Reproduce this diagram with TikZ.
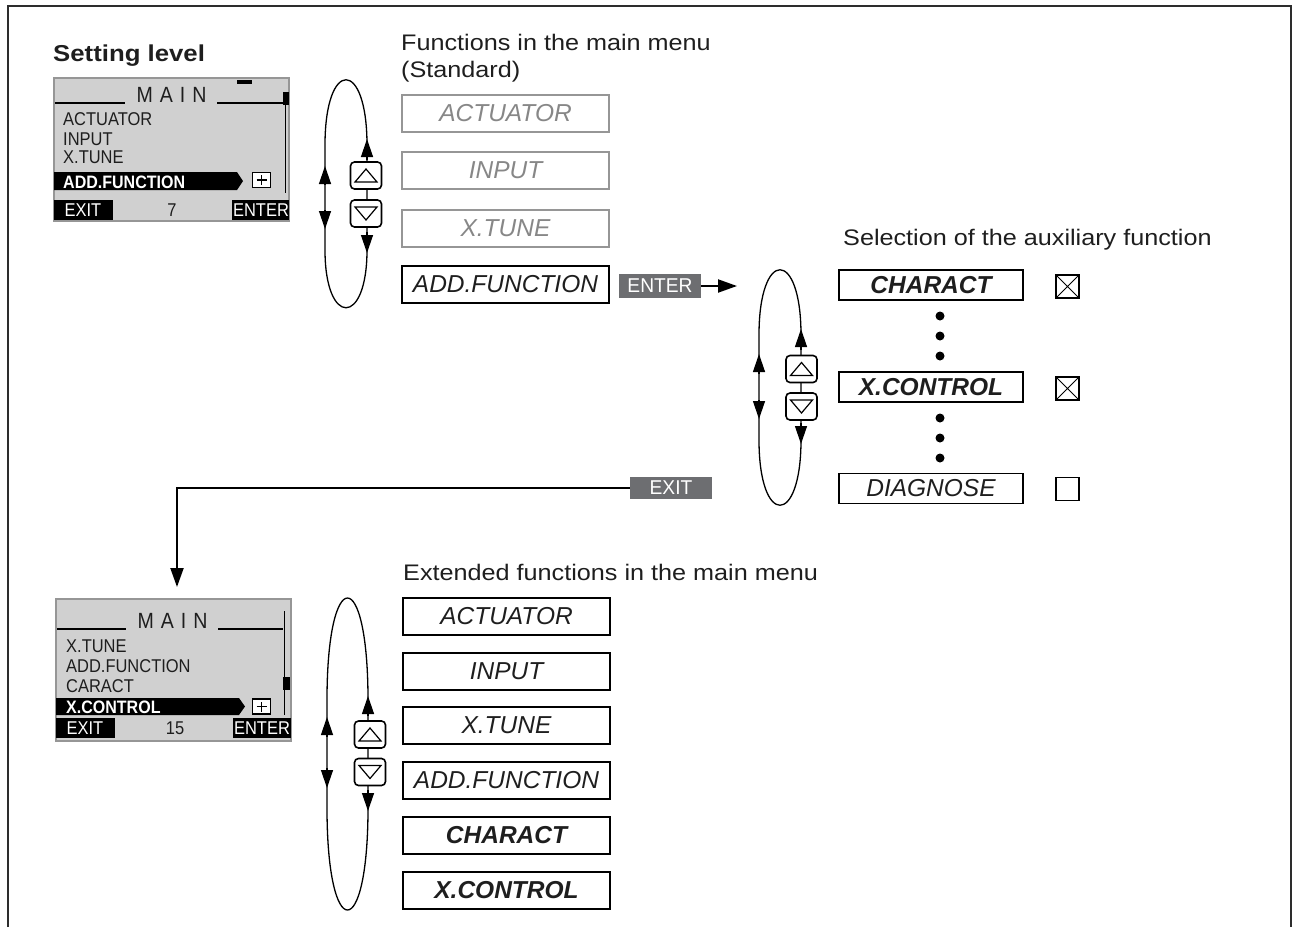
\documentclass[tikz,border=0pt]{standalone}
\usepackage{fontspec}
\setmainfont{Liberation Sans}
\newfontfamily\bodyfont[FakeStretch=1.12]{Liberation Sans}
\newfontfamily\dispfont[FakeStretch=0.89]{Liberation Sans}
\newfontfamily\labfont[FakeStretch=0.96]{Liberation Sans}
\usetikzlibrary{arrows.meta}
\definecolor{framecol}{RGB}{45,45,45}
\definecolor{dispgray}{RGB}{208,208,208}
\definecolor{dispedge}{RGB}{150,150,150}
\definecolor{labgray}{RGB}{109,110,113}
\definecolor{boxgray}{RGB}{150,150,150}
\definecolor{boxtxt}{RGB}{135,135,135}
\definecolor{txt}{RGB}{30,30,30}
\newcommand\mloop[6]{%
  \draw[lp] (#2,#3) .. controls (#2,#5) and (#1,#5) .. (#1,#3) -- (#1,#4)
    .. controls (#1,#6) and (#2,#6) .. (#2,#4) -- cycle;}
\newcommand\upbtn[2]{%
  \node[btn] (#1) at (#2) {};
  \draw[line width=1.2pt,line join=miter] ([shift={(-11,6.5)}]#1.center) -- ([shift={(11,6.5)}]#1.center) -- ([shift={(0,-6.5)}]#1.center) -- cycle;}
\newcommand\dnbtn[2]{%
  \node[btn] (#1) at (#2) {};
  \draw[line width=1.2pt,line join=miter] ([shift={(-11,-6.5)}]#1.center) -- ([shift={(11,-6.5)}]#1.center) -- ([shift={(0,6.5)}]#1.center) -- cycle;}
\begin{document}
\begin{tikzpicture}[x=1pt,y=-1pt,
  lp/.style={line width=1.3pt},
  loopar/.style={-{Triangle[length=18pt,width=12pt]}, line width=1.3pt},
  conn/.style={-{Triangle[length=19pt,width=13pt]}, line width=2pt},
  btn/.style={draw, line width=1.6pt, rounded corners=4pt, fill=white, minimum width=31pt, minimum height=27pt, inner sep=0, outer sep=0},
  body/.style={inner sep=0, anchor=base west, text=txt, font=\bodyfont\fontsize{22.5}{27}\selectfont},
  head/.style={inner sep=0, anchor=base west, text=txt, font=\bodyfont\bfseries\fontsize{23}{27}\selectfont},
  menubox/.style={draw, line width=1.8pt, minimum width=207pt, minimum height=37pt, inner sep=0, text=txt, font=\itshape\fontsize{24.5}{28}\selectfont},
  greybox/.style={menubox, draw=boxgray, text=boxtxt},
  boldbox/.style={menubox, font=\bfseries\itshape\fontsize{24.5}{28}\selectfont},
  selbox/.style={menubox, minimum width=184pt, minimum height=30pt},
  selbold/.style={boldbox, minimum width=184pt, minimum height=30pt},
  chk/.style={draw, line width=1.2pt, minimum width=23pt, minimum height=23pt, inner sep=0},
  lab/.style={fill=labgray, text=white, minimum width=82pt, minimum height=24pt, inner sep=0, font=\labfont\fontsize{20}{22}\selectfont},
  dtxt/.style={inner sep=0, anchor=base west, text=txt, font=\dispfont\fontsize{18.5}{20}\selectfont},
  dbold/.style={inner sep=0, anchor=base west, text=white, font=\dispfont\bfseries\fontsize{18}{20}\selectfont},
  dwhite/.style={inner sep=0, anchor=base, text=white, font=\dispfont\fontsize{18.5}{20}\selectfont},
  dnum/.style={inner sep=0, anchor=base, text=txt, font=\dispfont\fontsize{18.5}{20}\selectfont},
  dtitle/.style={inner sep=0, anchor=base, text=txt, font=\dispfont\fontsize{22}{24}\selectfont},
  dbg/.style={fill=dispgray, draw=dispedge, line width=1.5pt},
  dline/.style={line width=1.3pt},
  plusbox/.style={draw, fill=white, line width=1.2pt, minimum width=18pt, minimum height=15pt, inner sep=0},
  dot/.style={circle, fill=black, inner sep=0, minimum size=9pt}
]
\useasboundingbox (0,0) rectangle (1295,927);
% frame
\draw[framecol, line width=2.5pt] (8,927) -- (8,6) -- (1291,6) -- (1291,927);

% headings
\node[head] (setlev) at (53,61) {Setting level};
\node[body] (fmain) at (401,50) {Functions in the main menu};
\node[body] (fstd) at (401,77.5) {(Standard)};
\node[body] (fsel) at (843,245) {Selection of the auxiliary function};
\node[body] (fext) at (403,580) {Extended functions in the main menu};

% ---------- display 1 ----------
\path[dbg] (54,78) rectangle (289,221);
\fill (237,80) rectangle (252,84);
\node[dtitle] (d1title) at (171.5,102) {M\hspace{7pt}A\hspace{7pt}I\hspace{7pt}N};
\draw[dline] (55,103) -- (125,103);
\draw[dline] (217,103) -- (283,103);
\draw[dline] (285.5,92) -- (285.5,193);
\fill (283,92) rectangle (289,105);
\node[dtxt] (d1a) at (63,125) {ACTUATOR};
\node[dtxt] (d1b) at (63,145) {INPUT};
\node[dtxt] (d1c) at (63,163) {X.TUNE};
\fill (54,172) -- (237,172) -- (243,181) -- (237,190) -- (54,190) -- cycle;
\node[dbold] (d1d) at (63,188) {ADD.FUNCTION};
\node[plusbox] (d1p) at (261.5,180) {};
\draw[line width=1.2pt] ([xshift=-5pt]d1p.center) -- ([xshift=5pt]d1p.center);
\draw[line width=1.2pt] ([yshift=-5pt]d1p.center) -- ([yshift=5pt]d1p.center);
\fill (54,200) rectangle (113,220);
\fill (232,200) rectangle (289,220);
\node[dwhite] (d1exit) at (83,216.5) {EXIT};
\node[dnum] (d1num) at (172,216.5) {7};
\node[dwhite] (d1ent) at (261,216.5) {ENTER};

% ---------- display 2 ----------
\path[dbg] (56,599) rectangle (291,741);
\node[dtitle] (d2title) at (172.5,628) {M\hspace{7pt}A\hspace{7pt}I\hspace{7pt}N};
\draw[dline] (57,629) -- (126,629);
\draw[dline] (218,629) -- (283,629);
\draw[dline] (284.5,611) -- (284.5,715);
\fill (283,677) rectangle (290,690);
\node[dtxt] (d2a) at (66,652) {X.TUNE};
\node[dtxt] (d2b) at (66,672) {ADD.FUNCTION};
\node[dtxt] (d2c) at (66,692) {CARACT};
\fill (56,698) -- (239,698) -- (245,706.5) -- (239,715) -- (56,715) -- cycle;
\node[dbold] (d2d) at (66,713) {X.CONTROL};
\node[plusbox] (d2p) at (261.5,706.5) {};
\draw[line width=1.2pt] ([xshift=-5pt]d2p.center) -- ([xshift=5pt]d2p.center);
\draw[line width=1.2pt] ([yshift=-5pt]d2p.center) -- ([yshift=5pt]d2p.center);
\fill (56,718) rectangle (115,738);
\fill (233,718) rectangle (291,738);
\node[dwhite] (d2exit) at (85,734.5) {EXIT};
\node[dnum] (d2num) at (175,734.5) {15};
\node[dwhite] (d2ent) at (262,734.5) {ENTER};

% ---------- loop 1 ----------
\mloop{325}{367}{145}{250}{58}{327}
\draw[loopar] (325,185) -- (325,166);
\draw[loopar] (325,210) -- (325,229);
\draw[loopar] (367,160) -- (367,139);
\draw[loopar] (367,232) -- (367,253);
\upbtn{u1}{366,175.5}
\dnbtn{v1}{366,213.5}

% column 1
\node[greybox] (c1a) at (505.5,113.5) {ACTUATOR};
\node[greybox] (c1b) at (505.5,170.5) {INPUT};
\node[greybox] (c1c) at (505.5,228.5) {X.TUNE};
\node[menubox] (c1d) at (505.5,284.5) {ADD.FUNCTION};
\node[lab] (enter) at (660,286) {ENTER};
\coordinate (entend) at (737,286);
\draw[conn] (enter.east) -- (entend);

% ---------- loop 2 ----------
\mloop{759}{801}{335}{440}{248}{527}
\draw[loopar] (759,374) -- (759,354);
\draw[loopar] (759,400) -- (759,419);
\draw[loopar] (801,350) -- (801,329);
\draw[loopar] (801,423) -- (801,444);
\upbtn{u2}{801.5,369}
\dnbtn{v2}{801.5,406.5}

% column 2
\node[selbold] (s1) at (931,285) {CHARACT};
\node[selbold] (s2) at (931,387) {X.CONTROL};
\node[selbox] (s3) at (931,488.5) {DIAGNOSE};
\node[dot] (p1) at (940,316) {};
\node[dot] (p2) at (940,336) {};
\node[dot] (p3) at (940,356) {};
\node[dot] (p4) at (940,418) {};
\node[dot] (p5) at (940,438) {};
\node[dot] (p6) at (940,458) {};
\node[chk] (k1) at (1067.5,286.5) {};
\draw[line width=1pt] (k1.north west) -- (k1.south east) (k1.north east) -- (k1.south west);
\node[chk] (k2) at (1067.5,388.5) {};
\draw[line width=1pt] (k2.north west) -- (k2.south east) (k2.north east) -- (k2.south west);
\node[chk] (k3) at (1067.5,489) {};

% exit
\node[lab, minimum height=22pt] (exit) at (671,488) {EXIT};
\coordinate (exend) at (177,587);
\draw[conn] (exit.west) -| (exend);

% ---------- loop 3 ----------
\mloop{327}{368}{700}{808}{564}{944}
\draw[loopar] (327,737) -- (327,717);
\draw[loopar] (327,768) -- (327,788);
\draw[loopar] (368,716) -- (368,696);
\draw[loopar] (368,790) -- (368,811);
\upbtn{u3}{370,734.5}
\dnbtn{v3}{370,772}

% column 3
\node[menubox] (e1) at (506.5,616.5) {ACTUATOR};
\node[menubox] (e2) at (506.5,671.5) {INPUT};
\node[menubox] (e3) at (506.5,725.5) {X.TUNE};
\node[menubox] (e4) at (506.5,780.5) {ADD.FUNCTION};
\node[boldbox] (e5) at (506.5,835.5) {CHARACT};
\node[boldbox] (e6) at (506.5,890.5) {X.CONTROL};
\end{tikzpicture}
\end{document}
